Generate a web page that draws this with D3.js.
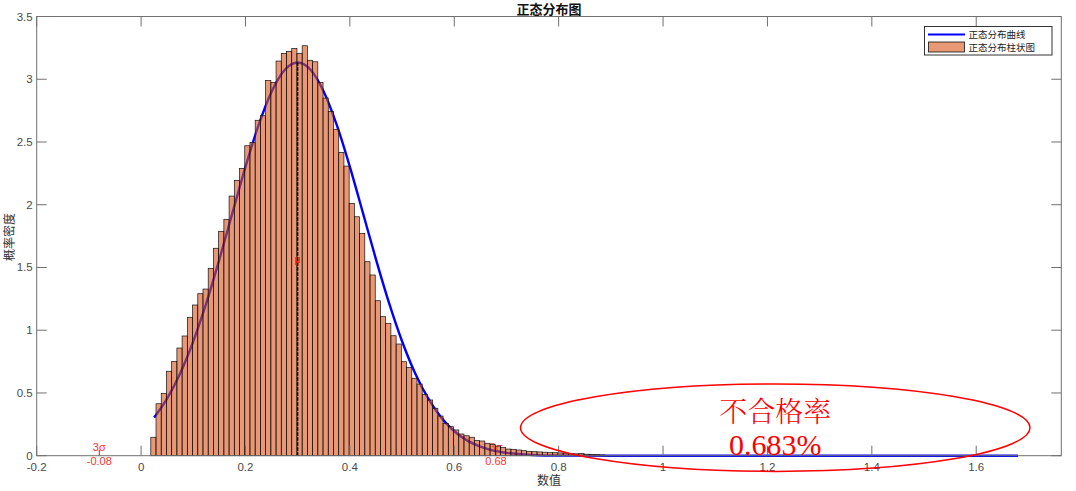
<!DOCTYPE html>
<html><head><meta charset="utf-8">
<script src="https://cdn.jsdelivr.net/npm/d3@7/dist/d3.min.js"></script>
<style>body{margin:0;background:#fff;}svg{display:block;}</style>
</head><body>
<svg id="chart" width="1076" height="491"></svg>
<script>
// ---------- data ----------
const binStart = 0.0186;          // left edge of first bin
const binWidth = 0.01;
const binValues = [
  0.147,0.414,0.497,0.673,0.752,0.858,0.954,1.103,1.201,1.291,
  1.328,1.493,1.653,1.788,1.884,2.069,2.194,2.290,2.470,2.497,
  2.673,2.709,2.991,2.975,3.145,3.206,3.222,3.246,3.206,3.267,
  3.151,3.139,2.975,2.850,2.744,2.601,2.417,2.308,2.011,1.904,
  1.772,1.546,1.440,1.235,1.108,1.055,0.956,0.890,0.749,0.704,
  0.617,0.571,0.489,0.444,0.378,0.316,0.258,0.231,0.205,0.173,
  0.159,0.147,0.120,0.117,0.099,0.088,0.077,0.067,0.053,0.051,
  0.045,0.040,0.035,0.032,0.030,0.028,0.025,0.024,0.022,0.020,
  0.017,0.015,0.018,0.012,0.010,0.008,0.006
];
const curveX = [0.025,0.05,0.075,0.1,0.125,0.15,0.175,0.2,0.225,0.25,0.275,0.3,
  0.325,0.35,0.375,0.4,0.425,0.45,0.475,0.5,0.525,0.55,0.575,0.6,0.625,0.65,0.675,
  0.7,0.75,0.8,0.9,1.0,1.2,1.4,1.6,1.68];
const curveY = [0.304,0.456,0.657,0.912,1.218,1.565,1.935,2.302,2.634,2.901,3.074,3.134,
  3.074,2.901,2.634,2.302,1.935,1.565,1.218,0.912,0.657,0.456,0.304,0.195,0.120,0.072,0.041,
  0.023,0.006,0.0014,0.0001,0,0,0,0,0];
const meanValue = 0.3;
const peakValue = 3.134;
const sigmaMarks = [{x:-0.08, label:"-0.08"}, {x:0.68, label:"0.68"}];
const xTicks = [-0.2,0,0.2,0.4,0.6,0.8,1,1.2,1.4,1.6];
const yTicks = [0,0.5,1,1.5,2,2.5,3,3.5];
const xDomain = [-0.2, 1.763];
const yDomain = [0, 3.5];
const titleText = "正态分布图";
const xLabel = "数值";
const yLabel = "概率密度";
const legendLabels = ["正态分布曲线", "正态分布柱状图"];
const failEllipse = {cx:1.215, cy:0.223, rx:0.488, ry:0.348};
const failText = ["不合格率", "0.683%"];

// ---------- layout ----------
const L = 36.7, R = 1061.3, T = 16.5, B = 455.7;
const svg = d3.select("#chart");
const x = d3.scaleLinear().domain(xDomain).range([L, R]);
const y = d3.scaleLinear().domain(yDomain).range([B, T]);
const axisColor = "#707070", labelColor = "#4a4a4a";
const font = "'Liberation Sans', Arial, sans-serif";
const cjk = "'Noto Sans CJK SC', sans-serif";
const barFill = "rgb(217,83,25)";

svg.append("rect").attr("x",L).attr("y",T).attr("width",R-L).attr("height",B-T).attr("fill","#fff");

// 3-sigma marks (under the bars)
const sg = svg.append("g");
sigmaMarks.forEach(m => {
  sg.append("line").attr("x1",x(m.x)).attr("x2",x(m.x)).attr("y1",y(0)).attr("y2",y(0.045))
    .attr("stroke","#ff3030").attr("stroke-width",1.2);
  sg.append("text").attr("x",x(m.x)).attr("y",y(0)-5).attr("text-anchor","middle")
    .attr("font-family",font).attr("font-size",11).attr("fill","#ff3030").text("3σ");
  sg.append("text").attr("x",x(m.x)).attr("y",y(0)+9).attr("text-anchor","middle")
    .attr("font-family",font).attr("font-size",11).attr("fill","#ff3030").text(m.label);
});

// normal curve
const line = d3.line().x((d,i)=>x(curveX[i])).y(d=>y(d)).curve(d3.curveMonotoneX);
svg.append("path").datum(curveY).attr("d",line).attr("fill","none")
  .attr("stroke","#0000ff").attr("stroke-width",2.4);

// histogram bars
svg.append("g").selectAll("rect").data(binValues).join("rect")
  .attr("x",(d,i)=>x(binStart+i*binWidth))
  .attr("width",(d,i)=>x(binStart+(i+1)*binWidth)-x(binStart+i*binWidth))
  .attr("y",d=>y(d)).attr("height",d=>y(0)-y(d))
  .attr("fill",barFill).attr("fill-opacity",0.6)
  .attr("stroke","#111").attr("stroke-width",0.7);

// mean dashed line
svg.append("line").attr("x1",x(meanValue)).attr("x2",x(meanValue))
  .attr("y1",y(0)).attr("y2",y(peakValue))
  .attr("stroke","#000").attr("stroke-width",1.4).attr("stroke-dasharray","3.5,1.5");
svg.append("text").attr("x",x(meanValue)).attr("y",y(peakValue/2)+4).attr("text-anchor","middle")
  .attr("font-family",font).attr("font-size",10).attr("fill","#ff0000").text("μ");

// axes (box with inward ticks)
const tk = 10;
const ax = svg.append("g").attr("stroke",axisColor).attr("stroke-width",1).attr("fill","none");
ax.append("rect").attr("x",L).attr("y",T).attr("width",R-L).attr("height",B-T);
xTicks.forEach(v => {
  ax.append("line").attr("x1",x(v)).attr("x2",x(v)).attr("y1",B).attr("y2",B-tk);
  ax.append("line").attr("x1",x(v)).attr("x2",x(v)).attr("y1",T).attr("y2",T+tk);
});
yTicks.forEach(v => {
  ax.append("line").attr("x1",L).attr("x2",L+tk).attr("y1",y(v)).attr("y2",y(v));
  ax.append("line").attr("x1",R).attr("x2",R-tk).attr("y1",y(v)).attr("y2",y(v));
});
const fmt = v => String(v);
svg.append("g").selectAll("text").data(xTicks).join("text")
  .attr("x",d=>x(d)).attr("y",B+15).attr("text-anchor","middle")
  .attr("font-family",font).attr("font-size",11.5).attr("fill",labelColor).text(fmt);
svg.append("g").selectAll("text").data(yTicks).join("text")
  .attr("x",L-4).attr("y",d=>y(d)+4).attr("text-anchor","end")
  .attr("font-family",font).attr("font-size",11.5).attr("fill",labelColor).text(fmt);

// titles
svg.append("text").attr("x",(L+R)/2).attr("y",13.5).attr("text-anchor","middle")
  .attr("font-family",cjk).attr("font-weight","bold").attr("font-size",13).attr("fill","#111").text(titleText);
svg.append("text").attr("x",(L+R)/2).attr("y",485).attr("text-anchor","middle")
  .attr("font-family",cjk).attr("font-size",12).attr("fill","#333").text(xLabel);
svg.append("text").attr("transform","translate(14,237) rotate(-90)").attr("text-anchor","middle")
  .attr("font-family",cjk).attr("font-size",12).attr("fill","#333").text(yLabel);

// legend
const lg = svg.append("g");
lg.append("rect").attr("x",924.5).attr("y",26.5).attr("width",127.5).attr("height",28.5)
  .attr("fill","#fff").attr("stroke","#333").attr("stroke-width",1);
lg.append("line").attr("x1",928).attr("x2",965).attr("y1",34.5).attr("y2",34.5)
  .attr("stroke","#0000ff").attr("stroke-width",2);
lg.append("rect").attr("x",928.5).attr("y",42).attr("width",36).attr("height",10)
  .attr("fill",barFill).attr("fill-opacity",0.6).attr("stroke","#111").attr("stroke-width",0.8);
legendLabels.forEach((t,i)=>{
  lg.append("text").attr("x",968.5).attr("y",37.8+i*13)
    .attr("font-family",cjk).attr("font-size",9.5).attr("fill","#222").text(t);
});

// fail-rate annotation
svg.append("ellipse").attr("cx",x(failEllipse.cx)).attr("cy",y(failEllipse.cy))
  .attr("rx",x(failEllipse.rx)-x(0)).attr("ry",y(0)-y(failEllipse.ry))
  .attr("fill","none").attr("stroke","#ff0000").attr("stroke-width",1.5);
svg.append("text").attr("x",x(failEllipse.cx)).attr("y",422).attr("text-anchor","middle")
  .attr("font-family","'Noto Serif CJK SC','Noto Sans CJK SC',serif").attr("font-size",28).attr("font-weight",300)
  .attr("fill","#ff0000").text(failText[0]);
svg.append("text").attr("x",x(failEllipse.cx)).attr("y",455).attr("text-anchor","middle")
  .attr("font-family","'Liberation Serif','Times New Roman',serif").attr("font-size",30)
  .attr("fill","#ff0000").text(failText[1]);
</script>
</body></html>
